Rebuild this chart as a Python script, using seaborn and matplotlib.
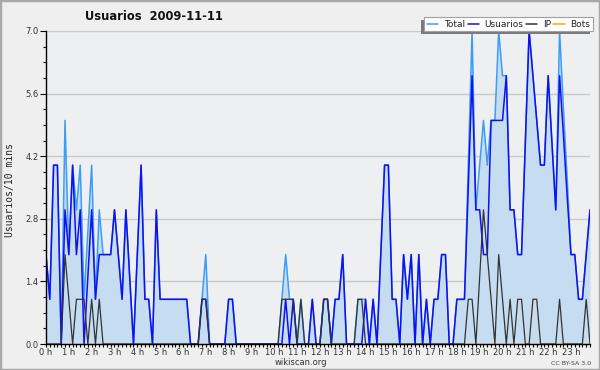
import numpy as np
import pandas as pd
import matplotlib
matplotlib.use("Agg")
import matplotlib.pyplot as plt
import seaborn as sns
from matplotlib.ticker import MultipleLocator, FixedLocator, FixedFormatter, FormatStrFormatter
from matplotlib.patches import Rectangle
from matplotlib.lines import Line2D

# ---- data (one value per 10 minutes) ----
total = [2, 1, 4, 4, 0, 5, 2, 4, 3, 4,
         1, 2.5, 4, 1, 3, 2, 2, 2, 3, 2,
         1, 3, 1.5, 0, 2, 4, 1, 1, 0, 3,
         1, 1, 1, 1, 1, 1, 1, 1, 0, 0,
         0, 1, 2, 0, 0, 0, 0, 0, 1, 1,
         0, 0, 0, 0, 0, 0, 0, 0, 0, 0,
         0, 0, 1, 2, 1, 1, 0, 1, 0, 0,
         1, 0, 0, 1, 1, 0, 1, 1, 2, 0,
         0, 0, 1, 1, 1, 0, 1, 0, 2, 4,
         4, 1, 1, 0, 2, 1, 2, 0, 2, 0,
         1, 0, 1, 1, 2, 2, 0, 0, 1, 1,
         1, 4, 7, 3, 4, 5, 4, 5, 5, 7,
         6, 6, 3, 3, 2, 2, 4.5, 7, 6, 5,
         4, 4, 6, 4.5, 3, 7, 5.3, 3.7, 2, 2,
         1, 1, 2, 3]
usuarios = [2, 1, 4, 4, 0, 3, 2, 4, 2, 3,
            0, 1.5, 3, 1, 2, 2, 2, 2, 3, 2,
            1, 3, 1.5, 0, 2, 4, 1, 1, 0, 3,
            1, 1, 1, 1, 1, 1, 1, 1, 0, 0,
            0, 1, 1, 0, 0, 0, 0, 0, 1, 1,
            0, 0, 0, 0, 0, 0, 0, 0, 0, 0,
            0, 0, 0, 1, 0, 1, 0, 0, 0, 0,
            1, 0, 0, 1, 1, 0, 1, 1, 2, 0,
            0, 0, 0, 0, 1, 0, 1, 0, 2, 4,
            4, 1, 1, 0, 2, 1, 2, 0, 2, 0,
            1, 0, 1, 1, 2, 2, 0, 0, 1, 1,
            1, 3.5, 6, 3, 3, 2, 2, 5, 5, 5,
            5, 6, 3, 3, 2, 2, 4.5, 7, 6, 5,
            4, 4, 6, 4.5, 3, 6, 4.7, 3.3, 2, 2,
            1, 1, 2, 3]
ip = [0, 0, 0, 0, 0, 2, 1, 0, 1, 1,
      1, 0, 1, 0, 1, 0, 0, 0, 0, 0,
      0, 0, 0, 0, 0, 0, 0, 0, 0, 0,
      0, 0, 0, 0, 0, 0, 0, 0, 0, 0,
      0, 1, 1, 0, 0, 0, 0, 0, 0, 0,
      0, 0, 0, 0, 0, 0, 0, 0, 0, 0,
      0, 0, 1, 1, 1, 1, 0, 1, 0, 0,
      0, 0, 0, 1, 1, 0, 0, 0, 0, 0,
      0, 0, 1, 1, 0, 0, 0, 0, 0, 0,
      0, 0, 0, 0, 0, 0, 0, 0, 0, 0,
      0, 0, 0, 0, 0, 0, 0, 0, 0, 0,
      0, 1, 1, 0, 1.5, 3, 2, 1, 0, 2,
      1, 0, 1, 0, 1, 1, 0, 0, 1, 1,
      0, 0, 0, 0, 0, 1, 0, 0, 0, 0,
      0, 0, 1, 0]
bots = [0] * 144
hour_labels = [f"{h} h" for h in range(24)]
y_ticks = [0.0, 1.4, 2.8, 4.2, 5.6, 7.0]
title_text = "Usuarios  2009-11-11"
y_label = "Usuarios/10 mins"
x_label = "wikiscan.org"
license_text = "CC BY-SA 3.0"
series_names = ["Total", "Usuarios", "IP", "Bots"]
series_colors = ["#3d9df5", "#1010f0", "#333333", "#ffa500"]

sns.set_style("white")
plt.rcParams['font.family'] = ['DejaVu Sans']

W, H = 600, 370
fig = plt.figure(figsize=(6, 3.7), dpi=100, facecolor="#efefef")
ax = fig.add_axes([46 / W, 1 - 344 / H, 544 / W, 313 / H])
ax.set_facecolor("#eeeff1")

x = np.arange(len(total)) / 6.0
df = pd.DataFrame({"x": x, "Total": total, "Usuarios": usuarios, "IP": ip, "Bots": bots})

for yv in y_ticks[1:]:
    ax.axhline(yv, color="#c9c9c9", lw=1.0, zorder=0.5)

ax.fill_between(df["x"], df["Total"], 0, color="#c6dcf0", lw=0, zorder=1)
sns.lineplot(data=df, x="x", y="Bots", ax=ax, color=series_colors[3], lw=1.0, zorder=1.2)
sns.lineplot(data=df, x="x", y="Total", ax=ax, color=series_colors[0], lw=1.1, zorder=1.5)
sns.lineplot(data=df, x="x", y="Usuarios", ax=ax, color=series_colors[1], lw=1.1, zorder=1.7)
sns.lineplot(data=df, x="x", y="IP", ax=ax, color=series_colors[2], lw=0.9, zorder=1.9)

ax.set_xlim(0, (len(total) - 1) / 6.0)
ax.set_ylim(0, 7.0)
ax.set_xlabel("")
ax.set_ylabel("")

for s in ["top", "right"]:
    ax.spines[s].set_visible(False)
for s in ["left", "bottom"]:
    ax.spines[s].set_color("black")
    ax.spines[s].set_linewidth(1.0)
    ax.spines[s].set_zorder(3)

ax.xaxis.set_major_locator(FixedLocator(list(range(24))))
ax.xaxis.set_major_formatter(FixedFormatter(hour_labels))
ax.xaxis.set_minor_locator(MultipleLocator(1 / 6))
ax.yaxis.set_major_locator(FixedLocator(y_ticks))
ax.yaxis.set_major_formatter(FormatStrFormatter("%.1f"))
ax.yaxis.set_minor_locator(MultipleLocator(0.35))

ax.tick_params(axis="x", which="major", direction="out", length=2.4, width=0.8,
               color="black", labelsize=6, labelcolor="#333333", pad=0.3)
ax.tick_params(axis="x", which="minor", direction="out", length=2.0, width=0.8, color="black")
ax.tick_params(axis="y", which="major", direction="out", length=4.3, width=0.8,
               color="black", labelsize=6, labelcolor="#333333", pad=1)
ax.tick_params(axis="y", which="minor", direction="out", length=2.2, width=0.8, color="black")
ax.tick_params(bottom=True, left=True, which="both")

fig.text(85 / W, 1 - 17 / H, title_text, fontsize=8.3, fontweight="bold",
         ha="left", va="center", color="#111111")
fig.text(10 / W, 1 - 190 / H, y_label, rotation=90, fontsize=7,
         family="DejaVu Sans Mono", ha="center", va="center", color="#222222")
fig.text(301 / W, 1 - 362.5 / H, x_label, fontsize=6, ha="center", va="center", color="#333333")
fig.text(591 / W, 1 - 363.5 / H, license_text, fontsize=4.5, ha="right", va="center", color="#444444")

handles = [Line2D([0], [0], color=c, lw=1.1) for c in series_colors]
leg = fig.legend(handles, series_names, loc="upper right",
                 bbox_to_anchor=(593 / W, 1 - 17 / H), ncol=4, fontsize=6.5,
                 frameon=True, fancybox=False, framealpha=1, edgecolor="#a0a0a0",
                 handlelength=1.25, handletextpad=0.65, columnspacing=0.25,
                 borderpad=0.3, borderaxespad=0)
leg.get_frame().set_linewidth(0.8)
leg.set_zorder(6)
for t in leg.get_texts():
    t.set_color("#222222")

fig.canvas.draw()
bb = leg.get_window_extent()
inv = fig.transFigure.inverted()
(x0, y0) = inv.transform((bb.x0 - 3, bb.y0 - 3))
(x1, y1) = inv.transform((bb.x1 - 3, bb.y1 - 3))
fig.patches.append(Rectangle((x0, y0), x1 - x0, y1 - y0, transform=fig.transFigure,
                             facecolor="#7a7a7a", edgecolor="none", zorder=5.5))

fig.patches.append(Rectangle((0, 0), 1, 1, transform=fig.transFigure, fill=False,
                             edgecolor="#a8a8a8", lw=2.5, zorder=10))

fig.savefig("out.png", dpi=100, facecolor=fig.get_facecolor())
